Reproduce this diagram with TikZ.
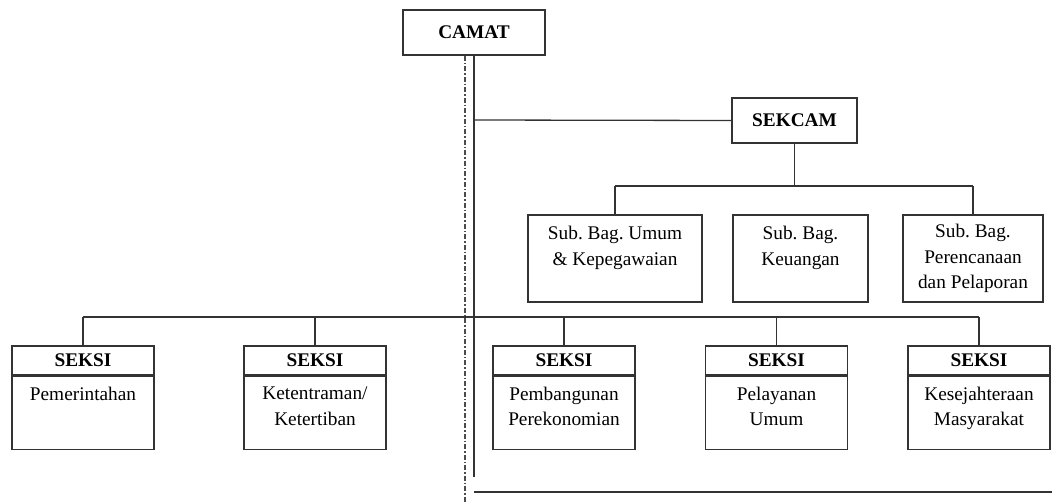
\documentclass[tikz,border=0pt]{standalone}
\usepackage{fontspec}
\setmainfont{Liberation Serif}
\frenchspacing
\begin{document}
\begin{tikzpicture}[x=1pt,y=-1pt,
  ln/.style={draw=black!80, line width=1.3pt},
  box/.style={ln, rectangle, inner sep=0pt},
  txt/.style={font=\fontsize{19.3}{25.5}\selectfont, align=center, inner sep=0pt},
  btxt/.style={txt, font=\fontsize{19.3}{25.5}\selectfont\bfseries},
  dashdot/.style={draw=black!70, line width=1.2pt, dash pattern=on 5pt off 2pt on 1.5pt off 2pt}
]
\useasboundingbox (0,0) rectangle (1052,503);
% top
\node[box, minimum width=142pt, minimum height=45pt] (camat) at (474,32.5) {};
\node[btxt] (camatT) at (camat.center) {CAMAT};
\node[box, minimum width=125pt, minimum height=45pt] (sekcam) at (794.5,120.5) {};
\node[btxt] (sekcamT) at (sekcam.center) {SEKCAM};
% sub bagian
\node[box, minimum width=174pt, minimum height=87pt] (sb1) at (615,258.5) {};
\node[box, minimum width=135pt, minimum height=87pt] (sb2) at (800.5,258.5) {};
\node[box, minimum width=140pt, minimum height=87pt] (sb3) at (973,258.5) {};
\node[txt, anchor=north] (sb1T) at ([yshift=-12pt]sb1.north) {Sub. Bag. Umum\\\& Kepegawaian};
\node[txt, anchor=north] (sb2T) at ([yshift=-12pt]sb2.north) {Sub. Bag.\\Keuangan};
\node[txt, anchor=north] (sb3T) at ([yshift=-10pt]sb3.north) {Sub. Bag.\\Perencanaan\\dan Pelaporan};
% seksi
\foreach \n/\x/\t in {s1/83/Pemerintahan, s2/315/{Ketentraman/\\Ketertiban}, s3/564/{Pembangunan\\Perekonomian}, s4/776.5/{Pelayanan\\Umum}, s5/979/{Kesejahteraan\\Masyarakat}}{
  \node[box, minimum width=142pt, minimum height=29pt] (\n h) at (\x,360.5) {};
  \node[btxt] (\n hT) at (\n h.center) {SEKSI};
  \node[box, minimum width=142pt, minimum height=73pt, anchor=north] (\n b) at (\n h.south) {};
  \node[txt, anchor=north] (\n bT) at ([yshift=-11pt]\n b.north) {\t};
}
% coordinates for free ends
\coordinate (solidEnd) at (474,477);
\coordinate (dashEnd) at (465,503);
\coordinate (bottomL) at (474,492);
\coordinate (bottomR) at (1052,492);
\coordinate (jSek) at (474,120);
\coordinate (subBarL) at (615,186);
\coordinate (subBarR) at (973,186);
\coordinate (secBarL) at (83,317);
\coordinate (secBarR) at (979,317);
% connectors
\draw[ln] (camat.south) -- (solidEnd);
\draw[dashdot] (camat.south -| dashEnd) -- (dashEnd);
\draw[ln] (bottomL) -- (bottomR);
\draw[ln] (jSek) -- (sekcam.west);
\draw[ln] (sekcam.south) -- (sekcam.south |- subBarL);
\draw[ln] (subBarL) -- (subBarR);
\draw[ln] (subBarL) -- (sb1.north);
\draw[ln] (subBarR) -- (sb3.north);
\draw[ln] (secBarL) -- (secBarR);
\foreach \n in {s1,s2,s3,s4,s5}{
  \draw[ln] (\n h.north |- secBarL) -- (\n h.north);
}
\end{tikzpicture}
\end{document}
